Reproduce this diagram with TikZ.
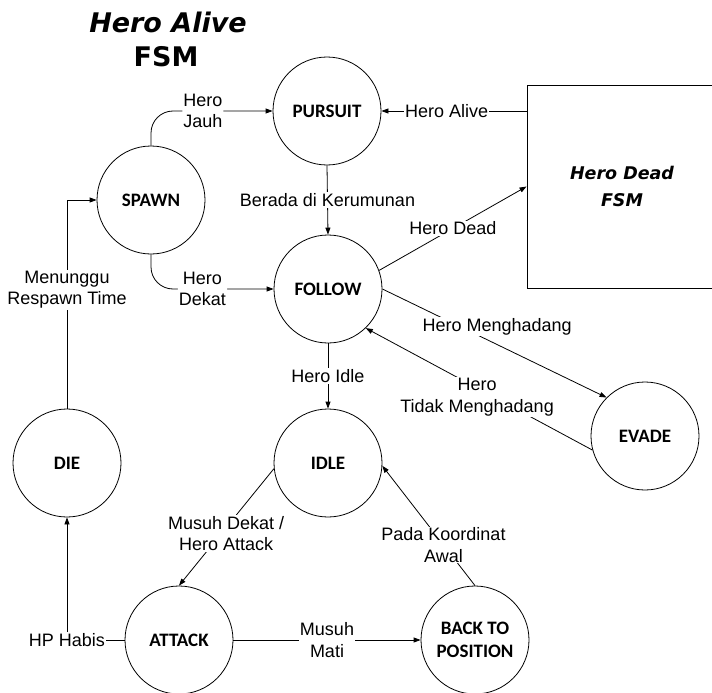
\documentclass[tikz,border=0pt]{standalone}
\usepackage{fontspec}
\setmainfont{Liberation Sans}
\newfontfamily\statefont{Carlito}
\newfontfamily\titlefont{DejaVu Sans}
\usetikzlibrary{arrows.meta}
\begin{document}
\begin{tikzpicture}[x=1pt,y=-1pt,
  state/.style={circle,draw,line width=0.8pt,minimum size=108pt,inner sep=0pt,align=center,
    font=\statefont\bfseries\fontsize{19}{22.5}\selectfont},
  lbl/.style={fill=white,inner sep=1pt,align=center,font=\fontsize{18}{21.5}\selectfont},
  conn/.style={line width=0.8pt},
  arr/.style={conn,-{Triangle[length=7pt,width=5pt]}}]
\clip (0,0) rectangle (712,693);
\fill[white] (0,0) rectangle (712,693);

% title
\node[font=\titlefont\bfseries\itshape\fontsize{27}{33}\selectfont] (titleA) at (168,22) {Hero Alive};
\node[font=\titlefont\bfseries\fontsize{27}{33}\selectfont] (titleB) at (166,57) {FSM};

% states
\node[state] (pursuit) at (327,111) {PURSUIT};
\node[state] (spawn)   at (151,200) {SPAWN};
\node[state] (follow)  at (328,289) {FOLLOW};
\node[state] (idle)    at (328,463) {IDLE};
\node[state] (die)     at (67,463)  {DIE};
\node[state] (evade)   at (645,436) {EVADE};
\node[state] (attack)  at (179,640) {ATTACK};
\node[state] (btp)     at (475,640) {BACK TO\\POSITION};

% nested machine
\node[draw,line width=0.9pt,minimum width=190pt,minimum height=203pt,inner sep=0pt,align=center,
  font=\titlefont\bfseries\itshape\fontsize{17.5}{27}\selectfont] (herodead) at (622,186.5) {Hero Dead\\FSM};

% transitions
\draw[arr,rounded corners=22pt] (spawn.north) |- node[lbl,pos=0.713] {Hero\\Jauh} (pursuit.west);
\draw[arr,rounded corners=22pt] (spawn.south) |- node[lbl,pos=0.71] {Hero\\Dekat} (follow.west);
\draw[arr] (die.north) |- node[lbl,pos=0.285] {Menunggu\\Respawn Time} (spawn.west);
\draw[arr] (pursuit.south) -- node[lbl] {Berada di Kerumunan} (follow.north);
\draw[arr] (follow.south) -- node[lbl] {Hero Idle} (idle.north);
\draw[arr] (herodead.west |- pursuit.east) -- node[lbl,pos=0.55] {Hero Alive} (pursuit.east);
\draw[arr] (follow.20) -- node[lbl] {Hero Dead} (herodead.west);
\draw[arr] (follow.east) -- node[lbl,pos=0.349,xshift=36.5pt] {Hero Menghadang} (evade.135);
\draw[arr] (evade.195) -- node[lbl,pos=0.434,xshift=-17pt] {Hero\\Tidak Menghadang} (follow.-46);
\draw[arr] (idle.186) -- node[lbl,pos=0.557,xshift=5pt] {Musuh Dekat /\\Hero Attack} (attack.north);
\draw[arr] (btp.north) -- node[lbl,pos=0.34] {Pada Koordinat\\Awal} (idle.-3);
\draw[arr] (attack.east) -- node[lbl] {Musuh\\Mati} (btp.west);
\draw[arr] (attack.west) -| node[lbl] {HP Habis} (die.south);
\end{tikzpicture}
\end{document}
